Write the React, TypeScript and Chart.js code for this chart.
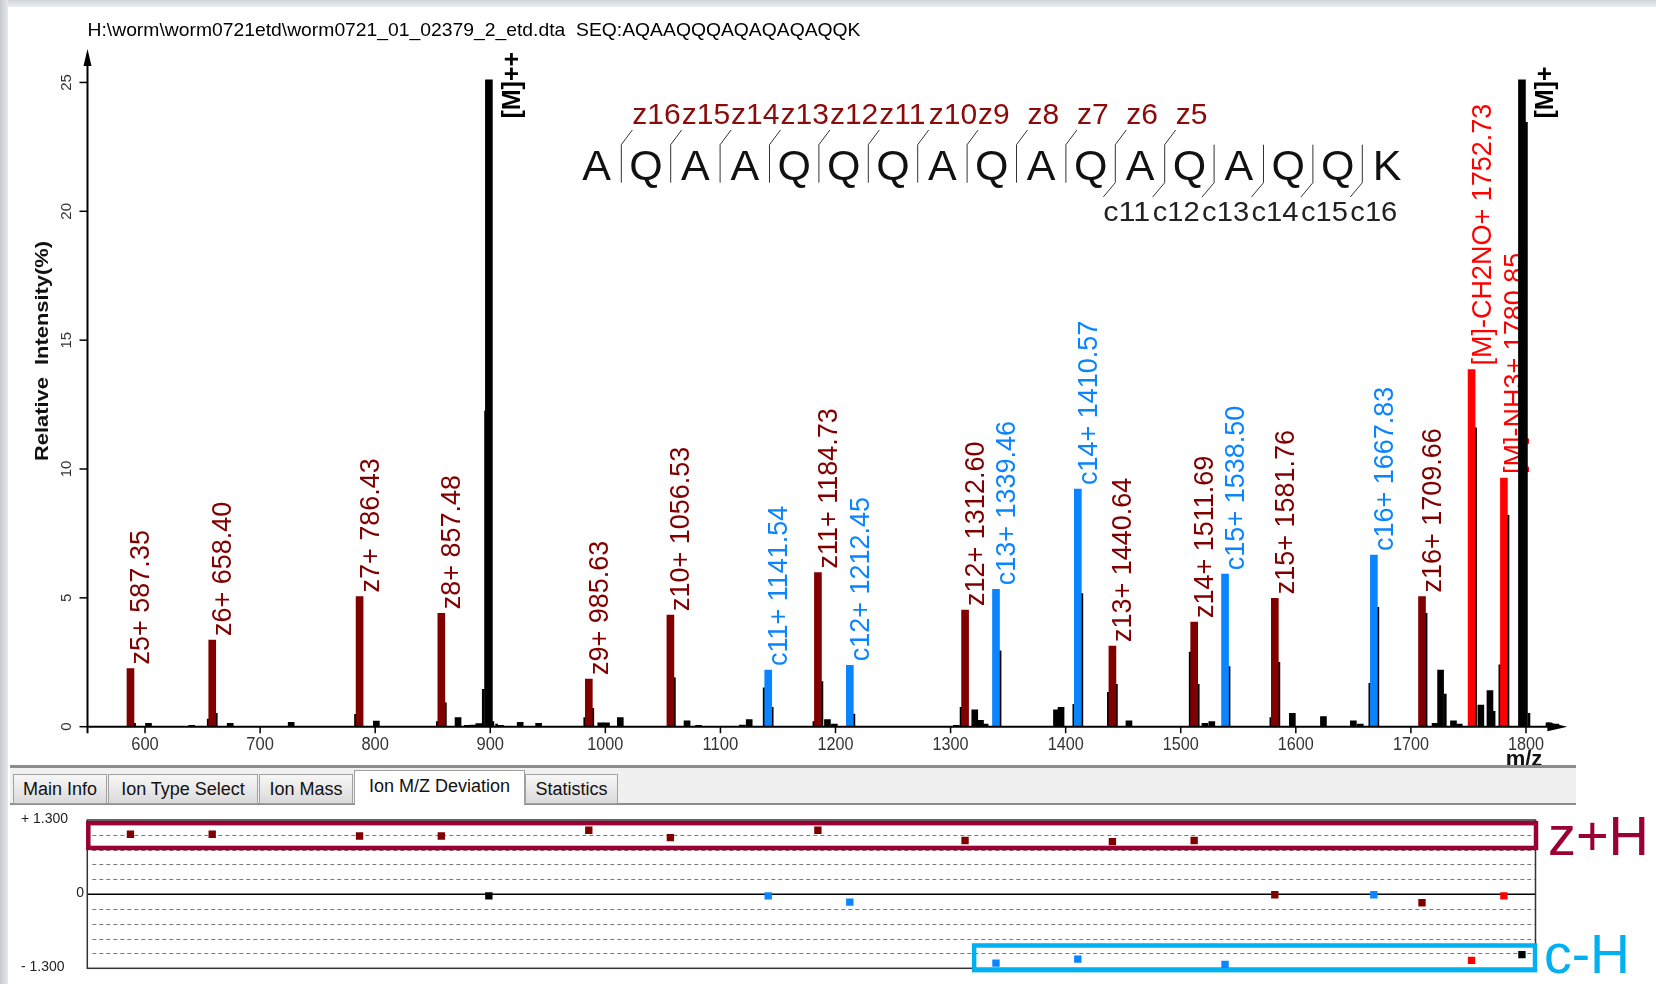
import React, { useEffect, useRef } from 'react';
import { Chart, registerables } from 'chart.js';
Chart.register(...registerables);

const FONT = "'Liberation Sans', Arial, sans-serif";

const TITLE = 'H:\\worm\\worm0721etd\\worm0721_01_02379_2_etd.dta  SEQ:AQAAQQQAQAQAQAQQK';
const Y_TITLE = 'Relative  Intensity(%)';
const X_TITLE = 'm/z';
const SEQUENCE = 'AQAAQQQAQAQAQAQQK'.split('');
const Z_SEQ_LABELS = ['z16', 'z15', 'z14', 'z13', 'z12', 'z11', 'z10', 'z9', 'z8', 'z7', 'z6', 'z5'];
const C_SEQ_LABELS = ['c11', 'c12', 'c13', 'c14', 'c15', 'c16'];

const Z_NAMES = ['z5+', 'z6+', 'z7+', 'z8+', 'z9+', 'z10+', 'z11+', 'z12+', 'z13+', 'z14+', 'z15+', 'z16+'];
const Z_MZ = [587.35, 658.4, 786.43, 857.48, 985.63, 1056.53, 1184.73, 1312.6, 1440.64, 1511.69, 1581.76, 1709.66];
const Z_INT = [2.26, 3.36, 5.05, 4.4, 1.85, 4.33, 5.98, 4.53, 3.13, 4.06, 4.98, 5.05];
const Z_DEV = [1.05, 1.05, 1.02, 1.02, 1.12, 0.99, 1.12, 0.94, 0.92, 0.94, -0.01, -0.15];

const C_NAMES = ['c11+', 'c12+', 'c13+', 'c14+', 'c15+', 'c16+'];
const C_MZ = [1141.54, 1212.45, 1339.46, 1410.57, 1538.5, 1667.83];
const C_INT = [2.2, 2.38, 5.33, 9.22, 5.92, 6.66];
const C_DEV = [-0.03, -0.14, -1.21, -1.14, -1.23, -0.01];

const LOSS_NAMES = ['[M]-CH2NO+', '[M]-NH3+'];
const LOSS_MZ = [1752.73, 1780.85];
const LOSS_INT = [13.86, 9.65];
const LOSS_DEV = [-1.16, -0.03];

const PREC_NAMES = ['[M]++', '[M]+'];
const PREC_MZ = [898.8, 1796.5];
const PREC_INT = [25.1, 25.1];
const PREC_DEV = [-0.03, -1.06];

const SHOULDER_MZ = [590.9, 654.9, 661.9, 782.9, 853.98, 860.98, 893.9, 895.9, 902.3, 905.5, 982.1, 989.1, 1060.0, 1138.0, 1145.0, 1181.2, 1188.2, 1216.0, 1309.1, 1343.0, 1407.1, 1414.1, 1437.1, 1444.1, 1508.2, 1515.2, 1542.0, 1578.3, 1585.3, 1664.3, 1671.3, 1713.2, 1729.9, 1756.2, 1772.3, 1777.3, 1784.4, 1800.4, 1802.6];
const SHOULDER_INT = [0.13, 0.3, 0.52, 0.48, 0.2, 0.93, 1.45, 12.25, 0.2, 0.1, 0.35, 0.71, 1.9, 1.51, 0.75, 0.2, 1.75, 0.49, 0.75, 2.94, 0.87, 5.17, 1.33, 1.64, 2.9, 1.64, 2.33, 0.35, 2.5, 1.68, 4.63, 4.4, 1.27, 11.6, 0.6, 2.4, 8.2, 23.45, 0.52];

const NOISE_MZ = [603, 640.6, 674, 727, 801, 872, 880, 885, 890, 909, 926, 942, 996, 1001, 1013, 1071, 1081, 1119, 1125, 1193, 1199, 1305, 1321, 1326, 1330, 1392, 1396, 1455, 1521, 1527, 1597, 1624, 1650, 1656, 1721, 1725.8, 1737, 1742, 1760.8, 1768.7, 1820, 1826];
const NOISE_INT = [0.13, 0.05, 0.13, 0.17, 0.22, 0.35, 0.05, 0.06, 0.12, 0.05, 0.17, 0.13, 0.15, 0.15, 0.35, 0.23, 0.05, 0.06, 0.28, 0.28, 0.1, 0.05, 0.65, 0.25, 0.1, 0.65, 0.75, 0.23, 0.13, 0.2, 0.52, 0.39, 0.23, 0.1, 0.13, 2.2, 0.23, 0.1, 0.84, 1.4, 0.15, 0.1];

const X_TICKS = [600, 700, 800, 900, 1000, 1100, 1200, 1300, 1400, 1500, 1600, 1700, 1800];
const Y_TICKS = [0, 5, 10, 15, 20, 25];
const DEV_GRID = [-1.04, -0.78, -0.52, -0.26, 0.26, 0.52, 0.78, 1.04];
const DEV_LABELS = [{ v: 1.3, t: '+ 1.300' }, { v: 0, t: '0' }, { v: -1.3, t: '- 1.300' }];
const TABS = ['Main Info', 'Ion Type Select', 'Ion Mass', 'Ion M/Z Deviation', 'Statistics'];

const DARKRED = '#800000';
const BLUE = '#0A84FF';
const RED = '#FF0000';

const pts = (xs: number[], ys: number[]) => xs.map((x, i) => ({ x, y: ys[i] }));

function rotText(ctx: CanvasRenderingContext2D, text: string, x: number, y: number, font: string, color: string, align: CanvasTextAlign = 'left', len?: number) {
  ctx.save();
  ctx.font = font;
  ctx.fillStyle = color;
  ctx.textAlign = align;
  ctx.textBaseline = 'alphabetic';
  ctx.translate(x, y);
  ctx.rotate(-Math.PI / 2);
  if (len) {
    const w = ctx.measureText(text).width;
    ctx.scale(len / w, 1);
  }
  ctx.fillText(text, 0, 0);
  ctx.restore();
}

function fitText(ctx: CanvasRenderingContext2D, text: string, x: number, y: number, font: string, color: string, align: CanvasTextAlign = 'left', len?: number) {
  ctx.save();
  ctx.font = font;
  ctx.fillStyle = color;
  ctx.textAlign = align;
  ctx.textBaseline = 'alphabetic';
  ctx.translate(x, y);
  if (len) {
    const w = ctx.measureText(text).width;
    ctx.scale(len / w, 1);
  }
  ctx.fillText(text, 0, 0);
  ctx.restore();
}

const specPlugin = {
  id: 'specDecor',
  beforeDatasetsDraw(chart: any) {
    const ctx: CanvasRenderingContext2D = chart.ctx;
    const xs = chart.scales.x;
    const ys = chart.scales.y;
    const lab = (names: string[], mzs: number[], ints: number[], color: string) => {
      names.forEach((n, i) => {
        const px = xs.getPixelForValue(mzs[i]);
        const py = ys.getPixelForValue(ints[i]);
        rotText(ctx, `${n} ${mzs[i].toFixed(2)}`, px + 19, py - 4, `27px ${FONT}`, color);
      });
    };
    lab(Z_NAMES, Z_MZ, Z_INT, DARKRED);
    lab(C_NAMES, C_MZ, C_INT, BLUE);
    lab(LOSS_NAMES, LOSS_MZ, LOSS_INT, RED);
    PREC_NAMES.forEach((n, i) => {
      const px = xs.getPixelForValue(PREC_MZ[i]);
      const py = ys.getPixelForValue(23.6);
      rotText(ctx, n, px + 31, py, `bold 25px ${FONT}`, '#000');
    });
  },
  afterDraw(chart: any) {
    const ctx: CanvasRenderingContext2D = chart.ctx;
    const xs = chart.scales.x;
    const ys = chart.scales.y;
    const y0 = ys.getPixelForValue(0);
    const xL = xs.left;
    ctx.save();
    ctx.strokeStyle = '#000';
    ctx.fillStyle = '#000';
    ctx.lineWidth = 2;
    // x axis
    ctx.beginPath();
    ctx.moveTo(xL, y0);
    ctx.lineTo(xs.right - 12, y0);
    ctx.stroke();
    ctx.beginPath();
    ctx.moveTo(xs.right - 20, y0 - 4.5);
    ctx.lineTo(xs.right, y0);
    ctx.lineTo(xs.right - 20, y0 + 4.5);
    ctx.closePath();
    ctx.fill();
    // y axis
    ctx.beginPath();
    ctx.moveTo(xL, y0 + 6.5);
    ctx.lineTo(xL, ys.top + 10);
    ctx.stroke();
    ctx.beginPath();
    ctx.moveTo(xL - 4, ys.top + 17);
    ctx.lineTo(xL, ys.top);
    ctx.lineTo(xL + 4, ys.top + 17);
    ctx.closePath();
    ctx.fill();
    ctx.lineWidth = 1.5;
    X_TICKS.forEach((v) => {
      const px = xs.getPixelForValue(v);
      ctx.beginPath();
      ctx.moveTo(px, y0);
      ctx.lineTo(px, y0 + 6.5);
      ctx.stroke();
      fitText(ctx, String(v), px, 750, `18px ${FONT}`, '#333', 'center', v >= 1000 ? 36 : 27.5);
    });
    Y_TICKS.forEach((v) => {
      const py = ys.getPixelForValue(v);
      ctx.beginPath();
      ctx.moveTo(xL - 8, py);
      ctx.lineTo(xL, py);
      ctx.stroke();
      rotText(ctx, String(v), 71, py, `15px ${FONT}`, '#333', 'center');
    });
    rotText(ctx, Y_TITLE, 47.5, 351, `bold 19px ${FONT}`, '#111', 'center', 220);
    fitText(ctx, X_TITLE, 1524, 766, `bold 22px ${FONT}`, '#111', 'center');
    fitText(ctx, TITLE, 87.5, 35.5, `19px ${FONT}`, '#000', 'left', 773);

    // sequence annotation
    const X0 = 596.6;
    const DX = 49.4;
    ctx.font = `43px ${FONT}`;
    ctx.fillStyle = '#111';
    ctx.textAlign = 'center';
    ctx.textBaseline = 'alphabetic';
    SEQUENCE.forEach((ch, i) => ctx.fillText(ch, X0 + i * DX, 179.5));
    ctx.strokeStyle = '#333';
    ctx.lineWidth = 1;
    for (let k = 1; k < SEQUENCE.length; k++) {
      const x = X0 + (k - 0.5) * DX;
      ctx.beginPath();
      ctx.moveTo(x, 144.7);
      ctx.lineTo(x, 182.7);
      ctx.stroke();
      if (k <= Z_SEQ_LABELS.length) {
        ctx.beginPath();
        ctx.moveTo(x, 144.7);
        ctx.lineTo(x + 11, 130);
        ctx.stroke();
        fitText(ctx, Z_SEQ_LABELS[k - 1], x + 11, 123.5, `30px ${FONT}`, '#8B0A0A');
      }
      if (k >= 11) {
        ctx.beginPath();
        ctx.moveTo(x, 182.7);
        ctx.lineTo(x - 12, 197);
        ctx.stroke();
        fitText(ctx, C_SEQ_LABELS[k - 11], x - 12, 220.7, `28px ${FONT}`, '#222', 'left', 47);
      }
    }
    ctx.restore();
  },
};

const devPlugin = {
  id: 'devDecor',
  beforeDatasetsDraw(chart: any) {
    const ctx: CanvasRenderingContext2D = chart.ctx;
    const ys = chart.scales.y;
    const { left, right, top, bottom } = chart.chartArea;
    ctx.save();
    ctx.strokeStyle = '#7a7a7a';
    ctx.lineWidth = 1;
    ctx.setLineDash([4, 3]);
    DEV_GRID.forEach((v) => {
      const py = Math.round(ys.getPixelForValue(v)) + 0.5;
      ctx.beginPath();
      ctx.moveTo(left + 5, py);
      ctx.lineTo(right, py);
      ctx.stroke();
    });
    ctx.setLineDash([]);
    ctx.strokeStyle = '#000';
    ctx.lineWidth = 1.5;
    const pz = ys.getPixelForValue(0);
    ctx.beginPath();
    ctx.moveTo(left, pz);
    ctx.lineTo(right, pz);
    ctx.stroke();
    ctx.strokeStyle = '#333';
    ctx.strokeRect(left, top, right - left, bottom - top);
    DEV_LABELS.forEach((d) => {
      const py = ys.getPixelForValue(d.v);
      const rx = d.v === 0 ? 84 : d.v > 0 ? 68 : 64.5;
      fitText(ctx, d.t, rx, py + 3, `14px ${FONT}`, '#222', 'right');
    });
    ctx.restore();
  },
  afterDatasetsDraw(chart: any) {
    const ctx: CanvasRenderingContext2D = chart.ctx;
    const xs = chart.scales.x;
    const ys = chart.scales.y;
    const { left, right } = chart.chartArea;
    ctx.save();
    ctx.lineWidth = 4.5;
    ctx.strokeStyle = '#990033';
    const zt = ys.getPixelForValue(1.245);
    const zb = ys.getPixelForValue(0.81);
    ctx.strokeRect(left + 1, zt, right - left - 0.5, zb - zt);
    ctx.strokeStyle = '#00B0F0';
    const ct = ys.getPixelForValue(-0.9);
    const cb = ys.getPixelForValue(-1.332);
    const cl = xs.getPixelForValue(1320.5);
    ctx.strokeRect(cl, ct, right - 0.5 - cl, cb - ct);
    fitText(ctx, 'z+H', 1548, 50, `56px ${FONT}`, '#990033', 'left', 101);
    fitText(ctx, 'c-H', 1544, 168, `56px ${FONT}`, '#00B0F0', 'left', 86);
    ctx.restore();
  },
};

export default function App() {
  const mainRef = useRef<HTMLCanvasElement>(null);
  const devRef = useRef<HTMLCanvasElement>(null);

  useEffect(() => {
    document.body.style.margin = '0';
    document.body.style.background = '#fff';
    const barDs = (data: any[], color: string, w: number) => ({
      data,
      backgroundColor: color,
      borderWidth: 0,
      barThickness: w,
      grouped: false,
    });
    const main = new Chart(mainRef.current as HTMLCanvasElement, {
      type: 'bar',
      data: {
        datasets: [
          barDs(pts(PREC_MZ, PREC_INT), '#000', 7),
          barDs(pts(LOSS_MZ, LOSS_INT), RED, 7),
          barDs(pts(Z_MZ, Z_INT), DARKRED, 7),
          barDs(pts(C_MZ, C_INT), BLUE, 7),
          barDs(pts(SHOULDER_MZ, SHOULDER_INT), '#000', 2),
          barDs(pts(NOISE_MZ, NOISE_INT), '#000', 6),
        ] as any,
      },
      options: {
        animation: false,
        responsive: false,
        devicePixelRatio: 1,
        events: [],
        layout: { padding: { left: 87.5, right: 88.6, top: 48.95, bottom: 38.3 } },
        plugins: { legend: { display: false }, tooltip: { enabled: false } },
        scales: {
          x: { type: 'linear', min: 550, max: 1836, offset: false, display: false },
          y: { type: 'linear', min: 0, max: 26.3, display: false },
        },
      } as any,
      plugins: [specPlugin],
    });

    const scDs = (data: any[], color: string) => ({
      data,
      backgroundColor: color,
      borderWidth: 0,
      pointStyle: 'rect',
      pointRadius: 5.2,
      showLine: false,
    });
    const dev = new Chart(devRef.current as HTMLCanvasElement, {
      type: 'scatter',
      data: {
        datasets: [
          scDs(pts(Z_MZ, Z_DEV), DARKRED),
          scDs(pts(C_MZ, C_DEV), BLUE),
          scDs(pts(LOSS_MZ, LOSS_DEV), RED),
          scDs(pts(PREC_MZ, PREC_DEV), '#000'),
        ] as any,
      },
      options: {
        animation: false,
        responsive: false,
        devicePixelRatio: 1,
        events: [],
        layout: { padding: { left: 87.3, right: 120.5, top: 15, bottom: 15.7 } },
        plugins: { legend: { display: false }, tooltip: { enabled: false } },
        scales: {
          x: { type: 'linear', min: 549.86, max: 1808.3, display: false },
          y: { type: 'linear', min: -1.3, max: 1.3, display: false },
        },
      } as any,
      plugins: [devPlugin],
    });
    return () => {
      main.destroy();
      dev.destroy();
    };
  }, []);

  const tabX = [13, 108, 259, 354, 525];
  const tabW = [94, 150, 94, 171, 93];

  return (
    <div style={{ position: 'relative', width: 1656, height: 984, overflow: 'hidden', background: '#fff', fontFamily: FONT }}>
      <canvas ref={mainRef} width={1656} height={765} style={{ position: 'absolute', left: 0, top: 0, display: 'block' }} />
      <div style={{ position: 'absolute', left: 10, top: 765, width: 1566, height: 40, background: '#f0f0f0', borderTop: '3px solid #8c8c8c', borderBottom: '2px solid #8c8c8c', boxSizing: 'border-box' }} />
      {TABS.map((t, i) => {
        const active = i === 3;
        return (
          <div
            key={t}
            style={{
              position: 'absolute',
              left: tabX[i],
              top: active ? 770 : 774,
              width: tabW[i],
              height: active ? 35 : 30,
              boxSizing: 'border-box',
              border: '1px solid #a0a0a0',
              borderBottom: active ? 'none' : '1px solid #a0a0a0',
              background: active ? '#fff' : 'linear-gradient(#f7f7f7, #dadada)',
              fontSize: 18,
              lineHeight: active ? '31px' : '28px',
              textAlign: 'center',
              color: '#111',
              whiteSpace: 'nowrap',
            }}
          >
            {t}
          </div>
        );
      })}
      <canvas ref={devRef} width={1656} height={179} style={{ position: 'absolute', left: 0, top: 805, display: 'block' }} />
      <div style={{ position: 'absolute', left: 0, top: 0, width: 1656, height: 7, background: 'linear-gradient(#cfd4da, #eceef1)' }} />
      <div style={{ position: 'absolute', left: 0, top: 0, width: 8, height: 984, background: 'linear-gradient(to right, #c4c8ce, #e6e8eb)' }} />
    </div>
  );
}
